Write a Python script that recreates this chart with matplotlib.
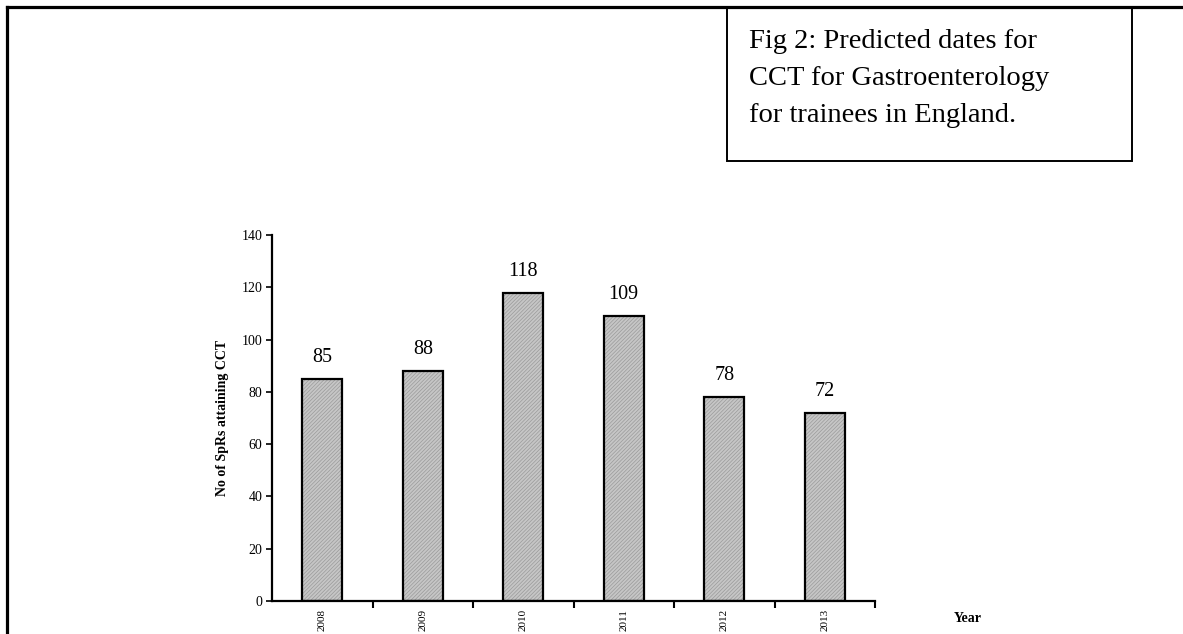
import matplotlib.pyplot as plt
from matplotlib.lines import Line2D
from matplotlib.patches import Rectangle

years = ["2008", "2009", "2010", "2011", "2012", "2013"]
spr_counts = [85, 88, 118, 109, 78, 72]
y_ticks = [0, 20, 40, 60, 80, 100, 120, 140]
caption = ["Fig 2: Predicted dates for",
           "CCT for Gastroenterology",
           "for trainees in England."]

plt.rcParams["font.family"] = ["Liberation Serif", "DejaVu Serif"]
plt.rcParams["hatch.linewidth"] = 0.5

W, H = 1183, 634
fig = plt.figure(figsize=(W / 100, H / 100), dpi=100)
fig.patch.set_facecolor("white")

def fx(px):
    return px / W

def fy(py):
    return 1 - py / H

# page frame: top and left rules
fig.add_artist(Line2D([fx(7), 1.0], [fy(7), fy(7)], color="black", lw=2.3,
                      transform=fig.transFigure))
fig.add_artist(Line2D([fx(7), fx(7)], [fy(7), 0.0], color="black", lw=2.3,
                      transform=fig.transFigure))

# caption box
fig.add_artist(Rectangle((fx(727), fy(161)), fx(1132) - fx(727), fy(7) - fy(161),
                         fill=False, edgecolor="black", lw=1.4,
                         transform=fig.transFigure))
for i, line in enumerate(caption):
    fig.text(fx(749), fy(48 + 37 * i), line, fontsize=20.5, va="baseline", ha="left")

ax = fig.add_axes([fx(272), fy(601), fx(875) - fx(272), fy(235) - fy(601)])
x = list(range(len(years)))

# hatched fill, then a black outline on top
ax.bar(x, spr_counts, width=0.4, color="#c6c6c6", edgecolor="#9a9a9a",
       hatch="/////////", linewidth=0, zorder=2)
ax.bar(x, spr_counts, width=0.4, fill=False, edgecolor="black",
       linewidth=1.6, zorder=3)

for xi, v in zip(x, spr_counts):
    ax.annotate(str(v), (xi, v), xytext=(0, 12), textcoords="offset points",
                ha="center", va="baseline", fontsize=14.5)

ax.set_xlim(-0.5, len(years) - 0.5)
ax.set_ylim(0, 140)
ax.set_yticks(y_ticks)
ax.tick_params(axis="y", labelsize=10, length=4, width=1.2, pad=3)

# tick marks at category boundaries, labels at centres
ax.set_xticks([i + 0.5 for i in x])
ax.set_xticklabels([])
ax.tick_params(axis="x", which="major", length=5, width=1.5, direction="out")
ax.set_xticks(x, minor=True)
ax.set_xticklabels(years, minor=True, rotation=90, fontsize=8)
ax.tick_params(axis="x", which="minor", length=0, pad=6)

for side in ["top", "right"]:
    ax.spines[side].set_visible(False)
for side in ["left", "bottom"]:
    ax.spines[side].set_linewidth(1.6)

ax.set_ylabel("No of SpRs attaining CCT", fontsize=10, fontweight="bold", labelpad=9)
fig.text(fx(968), fy(618), "Year", fontsize=10, fontweight="bold",
         ha="center", va="center")

fig.savefig("out.png", dpi=100)
